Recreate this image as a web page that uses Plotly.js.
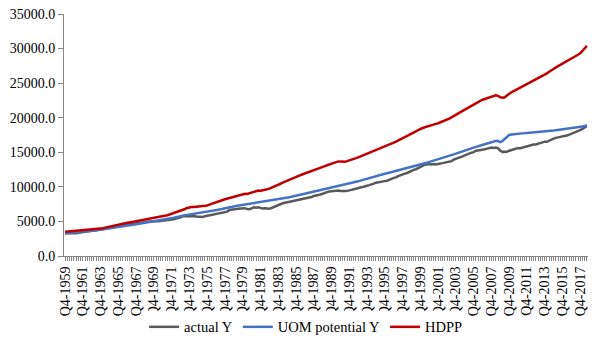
<!DOCTYPE html>
<html>
<head>
<meta charset="utf-8">
<script src="https://cdn.plot.ly/plotly-3.0.1.min.js"></script>
<style>html,body{margin:0;padding:0;background:#fff;}#chart{width:604px;height:358px;}</style>
</head>
<body>
<div id="chart"></div>
<script>
// Quarterly categories: Q4-1959 ... Q3-2018
const firstYear = 1959, lastYear = 2018, lastQuarter = 3;
const categories = ["Q4-1959"];
for (let y = 1960; y <= lastYear; y++) {
  for (let q = 1; q <= 4; q++) {
    if (y === lastYear && q > lastQuarter) break;
    categories.push("Q" + q + "-" + y);
  }
}
// Labelled ticks (every second year, Q4)
const labelledTicks = ["Q4-1959","Q4-1961","Q4-1963","Q4-1965","Q4-1967","Q4-1969","Q4-1971","Q4-1973","Q4-1975","Q4-1977","Q4-1979","Q4-1981","Q4-1983","Q4-1985","Q4-1987","Q4-1989","Q4-1991","Q4-1993","Q4-1995","Q4-1997","Q4-1999","Q4-2001","Q4-2003","Q4-2005","Q4-2007","Q4-2009","Q4-2011","Q4-2013","Q4-2015","Q4-2017"];

const actualY = [3250,
3320,3300,3310,3290, 3300,3360,3420,3480, 3540,3580,3610,3630, 3680,3720,3790,3830,
3900,3950,3990,4030, 4100,4170,4250,4340, 4440,4460,4500,4540, 4570,4590,4630,4660,
4740,4810,4850,4880, 4950,4990,5040,5030, 5020,5030,5070,5040, 5140,5170,5210,5220,
5310,5430,5480,5580, 5740,5760,5740,5800, 5760,5770,5700,5680, 5610,5650,5760,5830,
5960,6010,6050,6110, 6160,6260,6370,6400, 6420,6650,6720,6800, 6820,6830,6880,6900,
6920,6780,6770,6880, 7030,6970,7050,6960, 6860,6890,6850,6850, 6940,7090,7220,7340,
7490,7620,7700,7770, 7830,7890,8020,8080, 8160,8180,8260,8310, 8370,8460,8540,8690,
8730,8840,8890,9000, 9150,9240,9330,9370, 9450,9480,9480,9390, 9340,9390,9420,9460,
9560,9660,9770,9890, 9910,9970,10020,10160, 10250,10410,10470,10600, 10630,10660,10760,10830,
10890,11070,11160,11300, 11370,11560,11710,11810, 11920,12010,12170,12350, 12450,12550,12720,12930,
12980,13210,13220,13300, 13250,13300,13230,13250, 13370,13430,13500,13520, 13600,13720,13940,14090,
14200,14330,14420,14560, 14720,14800,14940,15020, 15220,15270,15290,15410, 15430,15530,15630,15700,
15620,15680,15580,15240, 15060,15020,15080,15230, 15310,15440,15540,15620, 15590,15690,15700,15890,
16000,16080,16110,16120, 16220,16260,16390,16540, 16520,16690,16880,16980, 17080,17180,17260,17290,
17370,17420,17540,17660, 17760,17880,18020,18200, 18380,18620,18800];

const uomPotentialY = [3330,
3350,3370,3400,3420, 3440,3470,3510,3540, 3570,3610,3640,3670, 3700,3740,3780,3820,
3860,3910,3950,4000, 4040,4090,4150,4200, 4250,4300,4350,4400, 4450,4500,4550,4600,
4650,4700,4760,4800, 4850,4900,4950,5000, 5060,5110,5170,5230, 5280,5340,5390,5450,
5530,5620,5710,5800, 5850,5900,5950,6000, 6040,6060,6080,6150, 6200,6250,6300,6350,
6410,6480,6540,6600, 6680,6750,6830,6900, 6980,7050,7130,7200, 7240,7290,7330,7380,
7420,7460,7510,7550, 7600,7650,7700,7750, 7800,7850,7900,7950, 8010,8070,8140,8200,
8260,8320,8390,8450, 8510,8570,8640,8700, 8760,8820,8890,8950, 9020,9100,9170,9250,
9340,9420,9510,9600, 9680,9750,9830,9900, 9960,10020,10090,10150, 10220,10300,10370,10450,
10540,10620,10710,10800, 10900,11000,11100,11200, 11290,11370,11460,11550, 11640,11720,11810,11900,
11970,12050,12120,12200, 12270,12350,12420,12500, 12590,12670,12760,12850, 12950,13050,13150,13250,
13340,13420,13510,13600, 13700,13800,13900,14000, 14090,14170,14260,14350, 14460,14570,14690,14800,
14920,15050,15170,15300, 15400,15500,15600,15700, 15790,15880,15960,16050, 16150,16250,16350,16450,
16550,16650,16620,16480, 16650,16950,17250,17500, 17570,17620,17660,17700, 17720,17750,17770,17800,
17820,17850,17870,17900, 17920,17950,17970,18000, 18040,18080,18110,18150, 18190,18230,18260,18300,
18340,18380,18410,18450, 18500,18550,18600,18650, 18730,18820,18900];

const hdpp = [3500,
3530,3540,3550,3560, 3580,3640,3700,3760, 3790,3810,3830,3850, 3870,3890,3920,3950,
4020,4100,4180,4250, 4310,4370,4440,4500, 4580,4650,4730,4800, 4860,4920,4990,5050,
5100,5150,5200,5250, 5300,5350,5400,5450, 5510,5570,5640,5700, 5800,5900,6000,6100,
6200,6300,6400,6500, 6650,6800,6950,7050, 7080,7100,7130,7150, 7180,7210,7250,7300,
7420,7550,7680,7800, 7900,8000,8100,8200, 8300,8400,8500,8600, 8690,8780,8860,8950,
9000,8980,9080,9200, 9350,9480,9470,9440, 9480,9560,9650,9750, 9870,10010,10150,10300,
10450,10600,10750,10900, 11040,11180,11310,11450, 11570,11700,11820,11950, 12060,12170,12290,12400,
12530,12650,12780,12900, 13010,13120,13240,13350, 13450,13550,13680,13650, 13600,13640,13720,13800,
13910,14030,14150,14270, 14400,14530,14670,14800, 14910,15020,15140,15250, 15400,15550,15700,15850,
15990,16120,16260,16400, 16550,16700,16850,17000, 17160,17320,17490,17650, 17840,18020,18210,18400,
18510,18620,18740,18850, 18930,19020,19110,19200, 19310,19420,19540,19650, 19850,20050,20250,20450,
20620,20800,20970,21150, 21340,21520,21710,21900, 22080,22250,22430,22600, 22710,22830,22940,23050,
23150,23250,23150,22950, 22900,22950,23200,23500, 23680,23850,24020,24200, 24360,24520,24690,24850,
25010,25180,25340,25500, 25680,25850,26030,26200, 26420,26650,26880,27100, 27280,27450,27630,27800,
27980,28150,28330,28500, 28700,28900,29100,29300, 29650,30000,30400];

const seriesNames = ["actual Y", "UOM potential Y", "HDPP"];
const seriesColors = ["#595959", "#4472C4", "#C00000"];
const seriesValues = [actualY, uomPotentialY, hdpp];

const traces = seriesValues.map((vals, i) => ({
  type: "scatter",
  mode: "lines",
  x: categories,
  y: vals,
  name: seriesNames[i],
  line: {color: seriesColors[i], width: 2.5},
  hoverinfo: "skip"
}));

const tickText = categories.map(c => labelledTicks.includes(c) ? c : "");
const fontFam = "'Liberation Serif', 'Times New Roman', serif";

const layout = {
  width: 604,
  height: 358,
  margin: {l: 64, r: 16, t: 14, b: 102},
  paper_bgcolor: "#ffffff",
  plot_bgcolor: "#ffffff",
  font: {family: fontFam, size: 14, color: "#000000"},
  showlegend: true,
  legend: {
    orientation: "h",
    x: 0.462, xanchor: "center",
    y: -0.293, yanchor: "middle",
    font: {family: fontFam, size: 14.5, color: "#000000"},
    itemwidth: 30,
    tracegroupgap: 0
  },
  xaxis: {
    type: "category",
    categoryorder: "array",
    categoryarray: categories,
    range: [-0.5, categories.length - 0.5],
    tickmode: "array",
    tickvals: categories,
    ticktext: tickText,
    tickangle: -90,
    ticks: "outside",
    ticklen: 4,
    tickwidth: 1,
    tickcolor: "#868686",
    showline: true,
    linecolor: "#868686",
    linewidth: 1,
    showgrid: false,
    zeroline: false,
    tickfont: {family: fontFam, size: 14, color: "#000000"}
  },
  yaxis: {
    range: [0, 35000],
    tickmode: "linear",
    tick0: 0,
    dtick: 5000,
    tickformat: ".1f",
    ticks: "outside",
    ticklen: 5,
    tickwidth: 1,
    tickcolor: "#868686",
    showline: true,
    linecolor: "#868686",
    linewidth: 1,
    showgrid: false,
    zeroline: false,
    tickfont: {family: fontFam, size: 14, color: "#000000"}
  }
};

Plotly.newPlot("chart", traces, layout, {displayModeBar: false, staticPlot: true});
</script>
</body>
</html>
